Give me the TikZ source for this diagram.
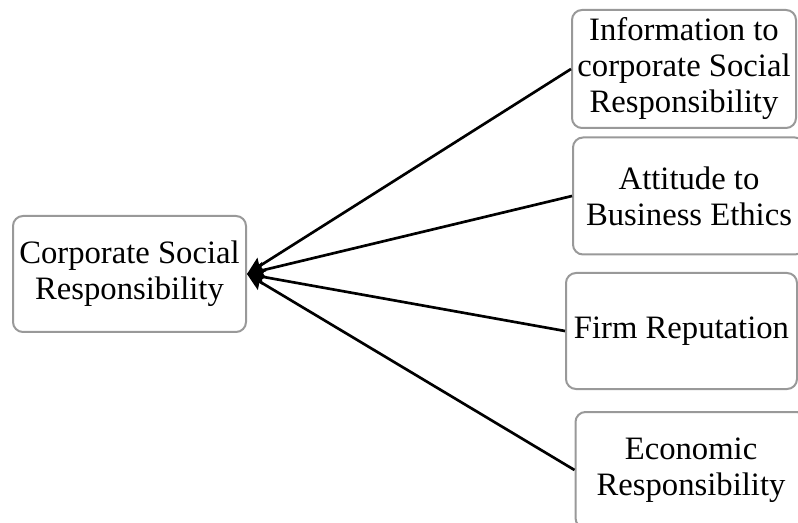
\documentclass[tikz,border=0pt]{standalone}
\usepackage{fontspec}
\setmainfont{Liberation Serif}
\usetikzlibrary{arrows.meta}
\begin{document}
\begin{tikzpicture}
    [x=0.75pt,y=-0.75pt,
     box/.style={draw=gray!80,line width=1.5pt,rounded corners=7.5pt,fill=white,
                 align=center,inner sep=0pt,font=\fontsize{24.5}{27}\selectfont},
     link/.style={line width=2pt,-{Stealth[length=13pt,width=12pt,inset=2pt]}}]
    \useasboundingbox (0,0) rectangle (798,523);
    \clip (0,0) rectangle (798,523);
    \node[box,minimum width=174.75pt,minimum height=87pt](csr) at (129.5,274)
        {Corporate Social\\Responsibility};
    \node[box,minimum width=168pt,minimum height=88.5pt](info) at (684,69)
        {Information to\\corporate Social\\Responsibility};
    \node[box,minimum width=174pt,minimum height=87.75pt](ethics) at (689,196)
        {Attitude to\\Business Ethics};
    \node[box,minimum width=173.25pt,minimum height=87pt](rep) at (681.5,331)
        {Firm Reputation};
    \node[box,minimum width=173.25pt,minimum height=87pt](econ) at (691,470)
        {Economic\\Responsibility};
    \draw[link] (info.west) -- (csr.east);
    \draw[link] (ethics.west) -- (csr.east);
    \draw[link] (rep.west) -- (csr.east);
    \draw[link] (econ.west) -- (csr.east);
\end{tikzpicture}
\end{document}
